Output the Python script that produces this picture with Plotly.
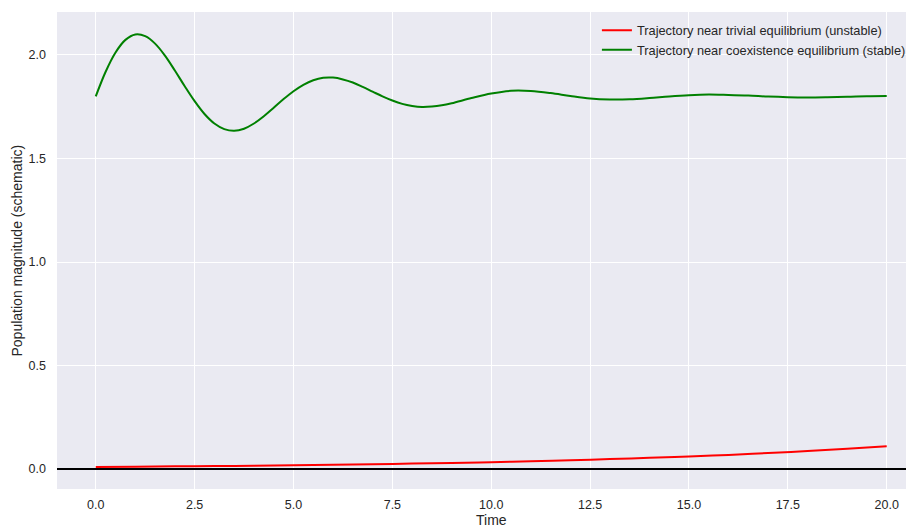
import plotly.graph_objects as go

# Time samples
t_green = [0.0, 0.25, 0.5, 0.75, 1.0, 1.25, 1.5, 1.75, 2.0, 2.25, 2.5, 2.75, 3.0, 3.25,
           3.5, 3.75, 4.0, 4.25, 4.5, 4.75, 5.0, 5.25, 5.5, 5.75, 6.0, 6.25, 6.5, 6.75,
           7.0, 7.25, 7.5, 7.75, 8.0, 8.25, 8.5, 8.75, 9.0, 9.5, 10.0, 10.5, 11.0, 11.5,
           12.0, 12.5, 13.0, 13.5, 14.0, 14.5, 15.0, 15.5, 16.0, 16.5, 17.0, 17.5, 18.0,
           18.5, 19.0, 19.5, 20.0]
coexistence = [1.800, 1.919, 2.012, 2.073, 2.099, 2.091, 2.055, 1.997, 1.925, 1.849, 1.777,
               1.715, 1.669, 1.642, 1.634, 1.644, 1.669, 1.704, 1.745, 1.787, 1.825, 1.856,
               1.878, 1.890, 1.891, 1.882, 1.867, 1.846, 1.823, 1.800, 1.780, 1.764, 1.754,
               1.749, 1.751, 1.757, 1.767, 1.792, 1.814, 1.827, 1.826, 1.816, 1.802, 1.790,
               1.785, 1.786, 1.792, 1.800, 1.806, 1.809, 1.807, 1.804, 1.799, 1.796, 1.795,
               1.796, 1.798, 1.801, 1.802]

t_red = [0, 1, 2, 3, 4, 5, 6, 7, 8, 9, 10, 11, 12, 13, 14, 15, 16, 17, 18, 19, 20]
trivial = [0.010, 0.011, 0.013, 0.014, 0.016, 0.018, 0.021, 0.023, 0.026, 0.029, 0.033,
           0.037, 0.042, 0.048, 0.054, 0.061, 0.068, 0.077, 0.087, 0.098, 0.110]

x_ticks = [0, 2.5, 5, 7.5, 10, 12.5, 15, 17.5, 20]
x_tick_labels = ["0.0", "2.5", "5.0", "7.5", "10.0", "12.5", "15.0", "17.5", "20.0"]
y_ticks = [0, 0.5, 1.0, 1.5, 2.0]
y_tick_labels = ["0.0", "0.5", "1.0", "1.5", "2.0"]

FONT = "Liberation Sans, Arial, sans-serif"
TXT = "#262626"

fig = go.Figure()
fig.add_trace(go.Scatter(x=t_red, y=trivial, mode="lines",
                         line=dict(color="#ff0000", width=2, shape="spline"),
                         name="Trajectory near trivial equilibrium (unstable)"))
fig.add_trace(go.Scatter(x=t_green, y=coexistence, mode="lines",
                         line=dict(color="#008000", width=2, shape="spline"),
                         name="Trajectory near coexistence equilibrium (stable)"))

fig.add_shape(type="line", xref="paper", yref="y", x0=0, x1=1, y0=0, y1=0,
              line=dict(color="black", width=1.8), layer="above")

# the page body adds an 8px offset; size the figure so it ends at the window edge
fig.update_layout(
    width=906, height=519,
    margin=dict(l=49, r=0, t=4, b=38, autoexpand=False),
    paper_bgcolor="white", plot_bgcolor="#EAEAF2",
    font=dict(family=FONT, size=12.5, color=TXT),
    showlegend=True,
    legend=dict(x=0.630, y=0.993, xanchor="left", yanchor="top", bgcolor="rgba(0,0,0,0)",
                font=dict(size=12.8, color=TXT), tracegroupgap=0),
    xaxis=dict(range=[-0.98, 20.69], tickvals=x_ticks, ticktext=x_tick_labels,
               showgrid=True, gridcolor="white", gridwidth=1, zeroline=False,
               showline=False, ticks="", ticklabelstandoff=6, automargin=False),
    yaxis=dict(range=[-0.0966, 2.2077], tickvals=y_ticks, ticktext=y_tick_labels,
               showgrid=True, gridcolor="white", gridwidth=1, zeroline=False,
               showline=False, ticks="", ticklabelstandoff=10, automargin=False),
    annotations=[
        dict(text="Time", xref="x", x=10, yref="paper", y=0, yanchor="top", yshift=-21,
             showarrow=False, font=dict(size=14, color=TXT)),
        dict(text="Population magnitude (schematic)", xref="paper", x=0, xshift=-41,
             xanchor="center", yref="paper", y=0.5, yanchor="middle", textangle=-90,
             showarrow=False, font=dict(size=14, color=TXT)),
    ],
)

fig.write_html("out.html")
